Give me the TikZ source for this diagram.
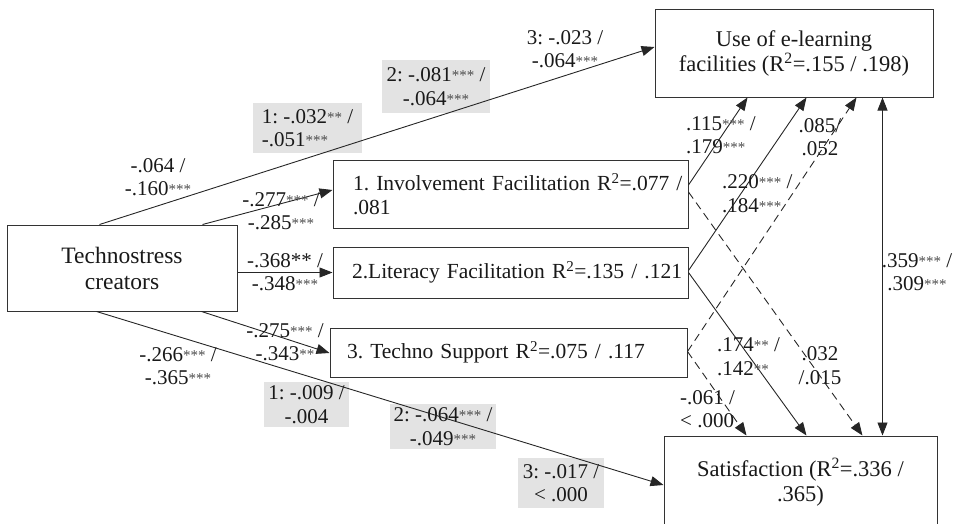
\documentclass[tikz,border=0pt]{standalone}
\usepackage{fontspec}
\setmainfont{Liberation Serif}
\usetikzlibrary{arrows.meta,calc}
\newcommand\sig[1]{{\fontsize{15}{15}\selectfont\color{black!70}\raisebox{1pt}{#1}}}
\begin{document}
\frenchspacing
\begin{tikzpicture}[x=1pt,y=-1pt,
  box/.style={draw=black!80, line width=1pt, inner sep=0pt, font=\fontsize{22.5}{25}\selectfont, align=center, text=black!90},
  mbox/.style={box, align=left, font=\fontsize{21.5}{24}\selectfont},
  lbl/.style={font=\fontsize{21}{23.5}\selectfont, align=center, inner sep=0pt, text=black!90},
  glbl/.style={lbl, fill=black!11},
  arr/.style={-{Triangle[length=13pt,width=10pt]}, line width=0.9pt, draw=black!85},
  dsh/.style={arr, dash pattern=on 8pt off 5pt}]
\clip (0,0) rectangle (956,523);
% boxes
\node[box, minimum width=278, minimum height=88] (use) at (794,53) {Use of e-learning\\facilities (R\textsuperscript{2}=.155 / .198)};
\node[box, minimum width=230, minimum height=86, font=\fontsize{23.5}{26}\selectfont] (tech) at (122,268) {Technostress\\creators};
\node[mbox, minimum height=68, inner xsep=20pt, text width=315pt] (inv) at (510.5,194) {\mbox{1. Involvement Facilitation R\textsuperscript{2}=.077 /}\\.081};
\node[mbox, minimum height=51, inner xsep=19pt, text width=317pt] (lit) at (510.5,272.5) {\mbox{2.Literacy Facilitation R\textsuperscript{2}=.135 / .121}};
\node[mbox, minimum height=49, inner xsep=17pt, text width=323pt] (sup) at (508.5,352.5) {\mbox{3. Techno Support R\textsuperscript{2}=.075 / .117}};
\node[box, minimum width=273, minimum height=92] (sat) at (800.5,482) {Satisfaction (R\textsuperscript{2}=.336 /\\.365)};
% gray labels (under lines)
\node[glbl, minimum width=108, minimum height=53] (g2top) at (436,86.5) {2: -.081\sig{***} /\\-.064\sig{***}};
\node[glbl, minimum width=109, minimum height=50, align=left, inner xsep=4pt] (g1top) at (307.5,128) {1: -.032\sig{**} /\\-.051\sig{***}};
\node[glbl, minimum width=85, minimum height=45] (g1bot) at (306.5,404.5) {1: -.009 /\\-.004};
\node[glbl, minimum width=106, minimum height=45] (g2bot) at (443,426.5) {2: -.064\sig{***} /\\-.049\sig{***}};
\node[glbl, minimum width=86, minimum height=50] (g3bot) at (561,483) {3: -.017 /\\< .000};
% connectors from technostress
\draw[arr] ($(tech.north west)+(93,0)$) -- ($(use.west)+(0,-6)$);
\draw[arr] ($(tech.north west)+(196,0)$) -- ($(inv.west)+(0,-4)$);
\draw[arr] (tech.east |- lit.west) -- (lit.west);
\draw[arr] ($(tech.south west)+(195,0)$) -- ($(sup.west)+(0,0.5)$);
\draw[arr] ($(tech.south west)+(90,0)$) -- ($(sat.west)+(0,3)$);
% mediators
\draw[arr] ($(inv.east)+(0,-9)$) -- ($(use.south west)+(93,0)$);
\draw[dsh] ($(inv.east)+(0,-2)$) -- ($(sat.north west)+(199,0)$);
\draw[arr] ($(lit.east)+(0,-2)$) -- ($(use.south west)+(152,0)$);
\draw[arr] (lit.east) -- ($(sat.north west)+(143,0)$);
\draw[dsh] ($(sup.east)+(0,-1)$) -- ($(use.south west)+(202,0)$);
\draw[dsh] ($(sup.east)+(0,-1)$) -- ($(sat.north west)+(83,0)$);
\draw[arr, {Triangle[length=13pt,width=10pt]}-{Triangle[length=13pt,width=10pt]}] ($(use.south west)+(228,0)$) -- ($(sat.north west)+(219,0)$);
% plain labels
\node[lbl] (l3top) at (565,49) {3: -.023 /\\-.064\sig{***}};
\node[lbl] (ldir) at (158,177) {-.064 /\\-.160\sig{***}};
\node[lbl] (la2) at (281,211) {-.277\sig{***} /\\-.285\sig{***}};
\node[lbl] (la3) at (285,272) {-.368** /\\-.348\sig{***}};
\node[lbl] (la4) at (285,342) {-.275\sig{***} /\\-.343\sig{**}};
\node[lbl] (la5) at (178,366) {-.266\sig{***} /\\-.365\sig{***}};
\node[lbl, anchor=west, align=left] (lb1) at (686,135) {.115\sig{***} /\\.179\sig{***}};
\node[lbl] (lb2) at (820,137) {.085/\\.052};
\node[lbl, anchor=west, align=left] (lb3) at (722,193.5) {.220\sig{***} /\\.184\sig{***}};
\node[lbl] (lb4) at (917,272) {.359\sig{***} /\\.309\sig{***}};
\node[lbl, anchor=west, align=left] (lb5) at (717,356.5) {.174\sig{**} /\\.142\sig{**}};
\node[lbl] (lb6) at (820,365.5) {.032\\/.015};
\node[lbl, anchor=west, align=left] (lb7) at (680,409) {-.061 /\\< .000};
\end{tikzpicture}
\end{document}
